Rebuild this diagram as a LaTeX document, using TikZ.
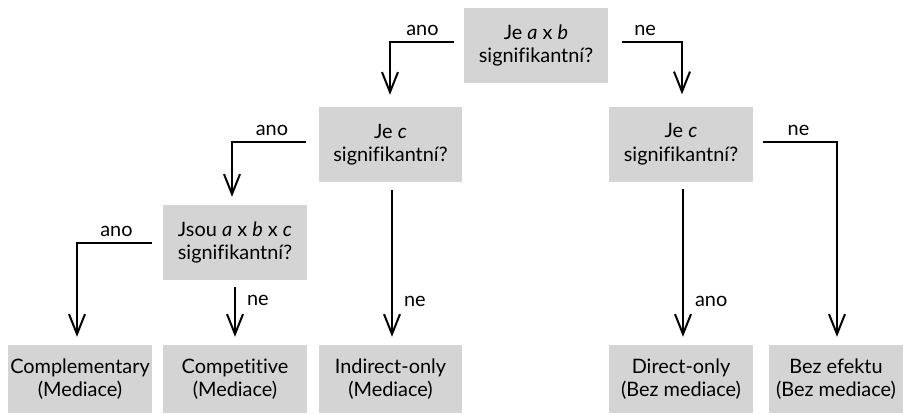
\documentclass[tikz,border=0pt]{standalone}
\usepackage{fontspec}
\setmainfont[Ligatures=NoCommon]{Lato}
\usetikzlibrary{arrows.meta}
\definecolor{boxgray}{HTML}{D4D4D4}
\begin{document}
\begin{tikzpicture}[x=1pt,y=-1pt,
  txt/.style={font=\fontsize{19.9}{23.5}\selectfont},
  box/.style={txt, fill=boxgray, minimum width=144pt, minimum height=75pt, inner sep=0pt, align=center},
  leaf/.style={box, minimum height=68pt},
  arr/.style={line width=2pt, -{Straight Barb[length=20pt,width=16pt]}},
  lab/.style={txt, inner sep=0pt}]
\useasboundingbox (0,0) rectangle (903,415);
% decision nodes
\node[box] (top) at (536,45.5) {Je \textit{a} x \textit{b}\\signifikantní?};
\node[box, minimum width=143pt] (jeC1) at (390.5,144.5) {Je \textit{c}\\signifikantní?};
\node[box] (jeC2) at (681,144) {Je \textit{c}\\signifikantní?};
\node[box] (jsou) at (235,242.5) {Jsou \textit{a} x \textit{b} x \textit{c}\\signifikantní?};
% leaves
\node[leaf] (comp) at (80,379) {Complementary\\(Mediace)};
\node[leaf] (compet) at (235,379) {Competitive\\(Mediace)};
\node[leaf, minimum width=143pt] (indir) at (390.5,379) {Indirect-only\\(Mediace)};
\node[leaf] (direct) at (681,379) {Direct-only\\(Bez mediace)};
\node[leaf, minimum width=134pt] (bez) at (836,379) {Bez efektu\\(Bez mediace)};
% connectors
\draw[arr, shorten <=10pt, shorten >=12pt] ([yshift=3.5pt]top.west) -| node[lab,above=5pt,pos=0.28]{ano} ([xshift=-0.5pt]jeC1.north);
\draw[arr, shorten <=14pt, shorten >=12pt] ([yshift=3.5pt]top.east) -| node[lab,above=5pt,pos=0.25]{ne} ([xshift=1pt]jeC2.north);
\draw[arr, shorten <=13pt, shorten >=8pt] ([yshift=2.5pt]jeC1.west) -| node[lab,above=5pt,pos=0.27]{ano} ([xshift=-3pt]jsou.north);
\draw[arr, shorten <=11pt, shorten >=8pt] ([yshift=-0.5pt]jsou.west) -| node[lab,above=5pt,pos=0.27]{ano} ([xshift=-3pt]comp.north);
\draw[arr, shorten <=7pt, shorten >=8pt] (jsou.south) -- node[lab,pos=0.31,right=11pt]{ne} (compet.north);
\draw[arr, shorten <=8pt, shorten >=8pt] ([xshift=1.5pt]jeC1.south) -- node[lab,pos=0.736,right=11pt]{ne} ([xshift=1.5pt]indir.north);
\draw[arr, shorten <=10pt, shorten >=8pt] ([yshift=2pt]jeC2.east) -| node[lab,above=5pt,pos=0.27]{ne} ([xshift=1pt]bez.north);
\draw[arr, shorten <=7pt, shorten >=8pt] ([xshift=2pt]jeC2.south) -- node[lab,pos=0.736,right=11pt]{ano} ([xshift=2pt]direct.north);
\end{tikzpicture}
\end{document}
